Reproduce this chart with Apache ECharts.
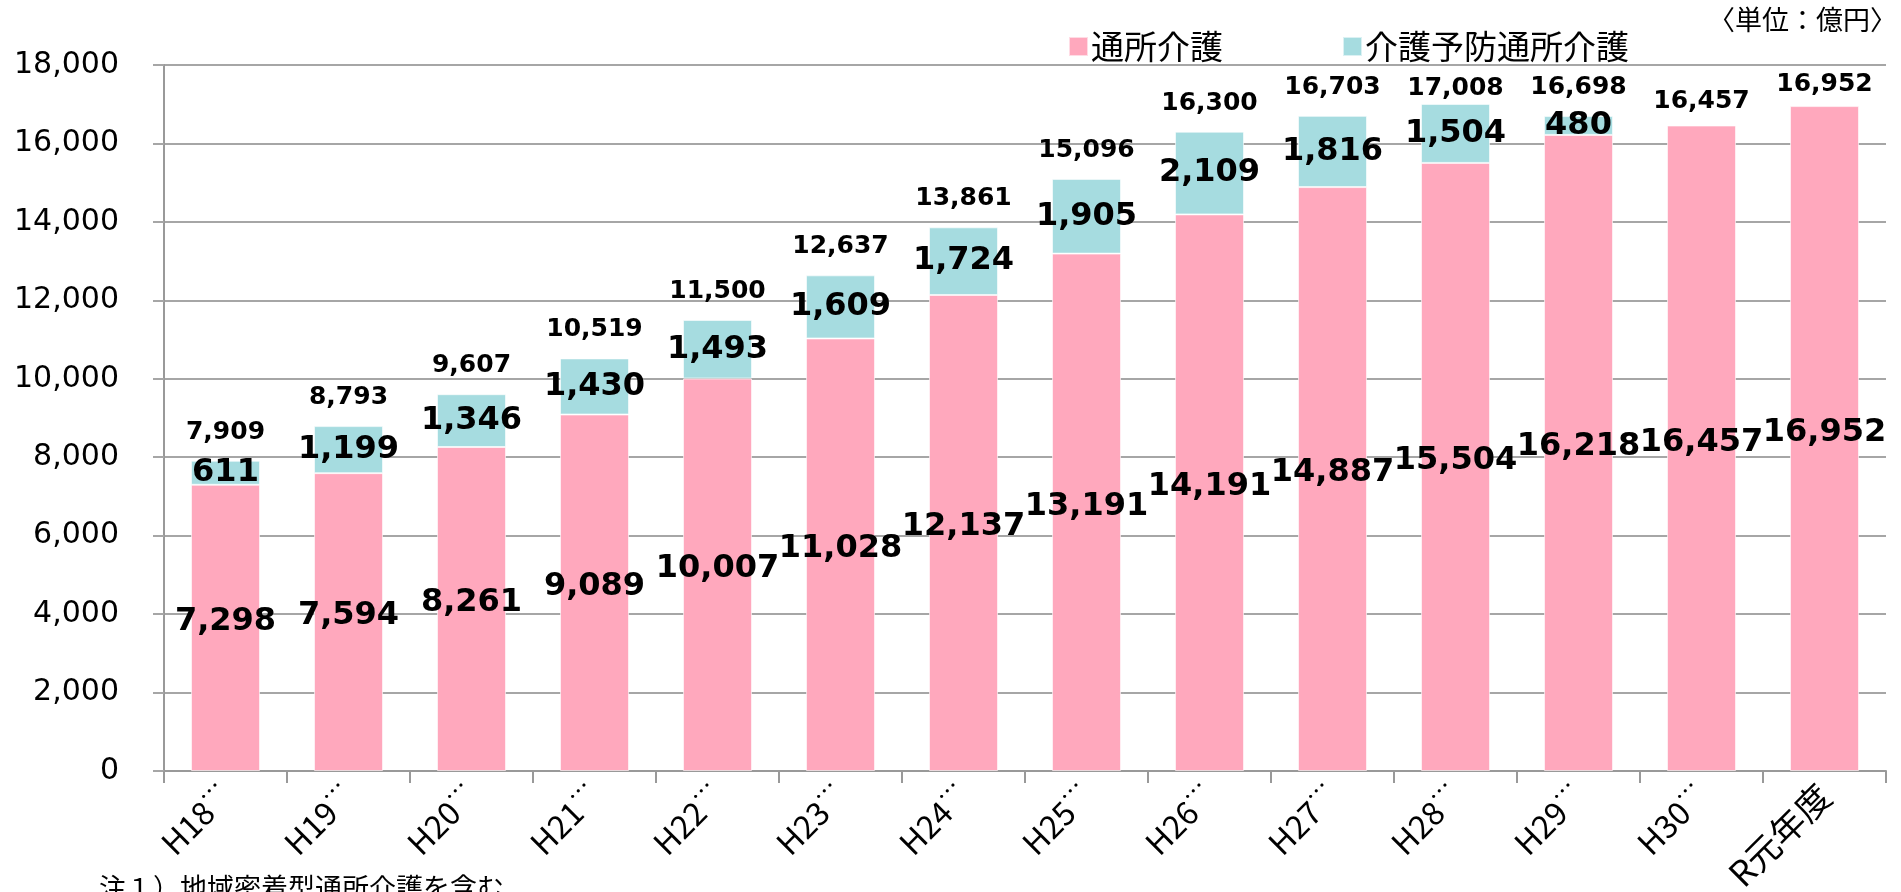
<!DOCTYPE html>
<html>
<head>
<meta charset="utf-8">
<script src="https://cdn.jsdelivr.net/npm/echarts@6/dist/echarts.min.js"></script>
<style>
  html, body { margin: 0; padding: 0; background: #fff; }
  #chart { width: 1901px; height: 892px; }
</style>
</head>
<body>
<div id="chart"></div>
<script>
// 年度
const categories = ['H18…', 'H19…', 'H20…', 'H21…', 'H22…', 'H23…', 'H24…', 'H25…', 'H26…', 'H27…', 'H28…', 'H29…', 'H30…', 'R元年度']
// 通所介護
const tsusho = [7298, 7594, 8261, 9089, 10007, 11028, 12137, 13191, 14191, 14887, 15504, 16218, 16457, 16952]
// 介護予防通所介護
const yobo = [611, 1199, 1346, 1430, 1493, 1609, 1724, 1905, 2109, 1816, 1504, 480, null, null]
// 合計
const totals = [7909, 8793, 9607, 10519, 11500, 12637, 13861, 15096, 16300, 16703, 17008, 16698, 16457, 16952]
const yTicks = [0, 2000, 4000, 6000, 8000, 10000, 12000, 14000, 16000, 18000]

const fmt = v => Number(v).toLocaleString('en-US')
const numFont = 'DejaVu Sans'
const jpFont = 'Noto Sans CJK JP'

// 合計ラベル：上端付近のものは少し下げる
const totalData = totals.map((v, i) => {
  if (i === 10) return { value: v, label: { distance: 2 } }
  if (i === 13) return { value: v, label: { distance: 8 } }
  if (i === 12) return { value: v, label: { distance: 11 } }
  return v
})

const chart = echarts.init(document.getElementById('chart'))

chart.setOption({
  animation: false,
  grid: { left: 164, right: 15, top: 65, bottom: 121, containLabel: false, outerBoundsMode: 'none' },
  legend: {
    data: ['通所介護', '介護予防通所介護'],
    left: 1063,
    top: 25,
    itemWidth: 19,
    itemHeight: 19,
    itemGap: 119,
    icon: 'rect',
    textStyle: { fontFamily: jpFont, fontSize: 33, color: '#000', padding: [0, 0, 0, -2] }
  },
  graphic: [
    {
      type: 'text',
      right: 4,
      top: 6,
      style: { text: '〈単位：億円〉', font: '27px "Noto Sans CJK JP"', fill: '#000' }
    },
    {
      type: 'text',
      left: 99,
      top: 874,
      style: { text: '注１）地域密着型通所介護を含む', font: '27px "Noto Sans CJK JP"', fill: '#000' }
    }
  ],
  xAxis: {
    type: 'category',
    data: categories,
    boundaryGap: true,
    axisLine: { lineStyle: { color: '#999', width: 2 } },
    axisTick: { show: true, length: 12, lineStyle: { color: '#999', width: 2 } },
    axisLabel: {
      interval: 0,
      rotate: 45,
      margin: 19,
      verticalAlign: 'middle',
      lineHeight: 46,
      fontFamily: jpFont,
      fontSize: 32,
      color: '#000',
      formatter: v => {
        if (v.endsWith('…')) return '{a|' + v.slice(0, -1) + '}{b|…}'
        return '{c|' + v + '}'
      },
      rich: {
        a: { fontFamily: jpFont, fontSize: 32, lineHeight: 46, color: '#000' },
        b: { fontFamily: jpFont, fontSize: 24, lineHeight: 43, verticalAlign: 'top', color: '#000' },
        c: { fontFamily: jpFont, fontSize: 35, lineHeight: 46, color: '#000' }
      }
    }
  },
  yAxis: {
    type: 'value',
    min: 0,
    max: 18000,
    interval: 2000,
    axisLine: { show: true, lineStyle: { color: '#999', width: 2 } },
    axisTick: { show: true, length: 11, lineStyle: { color: '#a6a6a6', width: 2 } },
    axisLabel: {
      margin: 45,
      fontFamily: numFont,
      fontSize: 30,
      color: '#000',
      formatter: v => fmt(v)
    },
    splitLine: { lineStyle: { color: '#a6a6a6', width: 2 } }
  },
  series: [
    {
      name: '通所介護',
      type: 'bar',
      stack: 'total',
      barWidth: 69,
      data: tsusho,
      itemStyle: { color: '#FFA8BD', borderColor: 'rgba(255,255,255,0.6)', borderWidth: 1 },
      label: {
        show: true,
        position: 'inside',
        offset: [0, -6],
        fontFamily: numFont,
        fontWeight: 'bold',
        fontSize: 32,
        color: '#000',
        formatter: p => fmt(p.value)
      }
    },
    {
      name: '介護予防通所介護',
      type: 'bar',
      stack: 'total',
      barWidth: 69,
      data: yobo,
      itemStyle: { color: '#A6DCE0', borderColor: 'rgba(255,255,255,0.6)', borderWidth: 1 },
      label: {
        show: true,
        position: 'inside',
        fontFamily: numFont,
        fontWeight: 'bold',
        fontSize: 32,
        color: '#000',
        formatter: p => fmt(p.value)
      }
    },
    {
      // 合計ラベル
      name: '合計',
      type: 'scatter',
      data: totalData,
      symbolSize: 1,
      itemStyle: { color: 'rgba(0,0,0,0)', opacity: 1 },
      silent: true,
      z: 5,
      label: {
        show: true,
        position: 'top',
        distance: 15,
        fontFamily: numFont,
        fontWeight: 'bold',
        fontSize: 25,
        lineHeight: 26,
        color: '#000',
        opacity: 1,
        formatter: p => fmt(p.value)
      }
    }
  ]
})
</script>
</body>
</html>
